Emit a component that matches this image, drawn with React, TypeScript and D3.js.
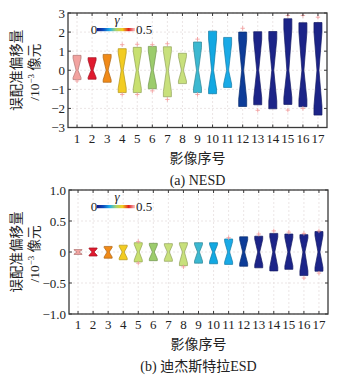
import * as d3 from "d3"

const imageIds = [1, 2, 3, 4, 5, 6, 7, 8, 9, 10, 11, 12, 13, 14, 15, 16, 17]
const gammaColors = [
  "#f2a3a0", "#e01a2e", "#f08a18", "#f2cc22", "#c8e070", "#9ccc6c", "#c8e07c", "#c8e07c",
  "#3cb8d0", "#12a8e2", "#1aaae6", "#0d3c98", "#1c2488", "#1c2488", "#1c2488", "#1c2488", "#1c2488",
]

// (a) NESD, unit 1e-3 pixel
const nesdQ3 = [0.78, 0.66, 0.83, 1.13, 1.2, 1.25, 1.23, 0.89, 1.48, 2.05, 1.72, 2.0, 2.02, 2.03, 2.7, 2.49, 2.5]
const nesdQ1 = [-0.49, -0.47, -0.63, -1.17, -1.17, -0.97, -1.39, -0.7, -1.17, -1.23, -0.9, -1.9, -1.81, -2.02, -1.79, -1.91, -2.35]
const nesdOutHi = [null, null, null, 1.34, 1.36, 1.34, 1.39, null, 1.63, null, null, 2.2, null, null, 2.87, 2.87, 2.78]
const nesdOutLo = [-0.56, null, null, -1.27, -1.27, -1.08, -1.53, null, -1.27, null, null, null, -2.1, null, -2.09, -2.0, null]
const nesdTicks = [3, 2, 1, 0, -1, -2, -3]

// (b) Dijkstra ESD
const esdQ3 = [0.04, 0.065, 0.09, 0.11, 0.15, 0.14, 0.135, 0.15, 0.15, 0.15, 0.21, 0.245, 0.255, 0.3, 0.29, 0.28, 0.33]
const esdQ1 = [-0.04, -0.065, -0.1, -0.125, -0.16, -0.14, -0.15, -0.22, -0.18, -0.19, -0.2, -0.23, -0.255, -0.305, -0.28, -0.38, -0.31]
const esdOutHi = [null, null, null, null, 0.17, null, null, null, null, null, 0.23, null, 0.29, 0.34, 0.32, 0.3, 0.34]
const esdOutLo = [null, null, null, null, -0.18, null, null, -0.24, null, null, null, null, null, null, null, -0.42, -0.34]
const esdTicks = [1.0, 0.5, 0, -0.5, -1.0]

const median = 0
const serif = "'Liberation Serif', 'Times New Roman', serif"
const cjk = "'Liberation Serif', 'Noto Sans CJK SC', serif"
const fmtMinus = (s: string) => s.replace("-", "\u2212")

interface PanelProps {
  top: number
  bottom: number
  left: number
  right: number
  domain: [number, number]
  ticks: number[]
  tickFmt: (v: number) => string
  q3: number[]
  q1: number[]
  outHi: (number | null)[]
  outLo: (number | null)[]
  caption: string
  gradId: string
}

function Panel(p: PanelProps) {
  const x = d3.scaleLinear().domain([0.4, 17.6]).range([p.left, p.right])
  const y = d3.scaleLinear().domain(p.domain).range([p.bottom, p.top])
  const labelY = (p.top + p.bottom) / 2
  const hw = 4
  const waist = 1
  const plus = 2.2

  return (
    <g>
      {/* grid */}
      {imageIds.map(i => (
        <line key={"gx" + i} x1={x(i)} x2={x(i)} y1={p.top} y2={p.bottom}
          stroke="#e6dede" strokeWidth={0.8} strokeDasharray="2,2" />
      ))}
      {p.ticks.map(t => (
        <line key={"gy" + t} x1={p.left} x2={p.right} y1={y(t)} y2={y(t)}
          stroke="#e6dede" strokeWidth={0.8} strokeDasharray="2,2" />
      ))}

      {/* boxes */}
      {imageIds.map((id, i) => {
        const cx = x(id)
        const yT = y(p.q3[i]), yB = y(p.q1[i]), yM = y(median)
        const nT = y(median + 0.8 * (p.q3[i] - median))
        const nB = y(median - 0.8 * (median - p.q1[i]))
        const pts = [
          [cx - hw, yT], [cx + hw, yT], [cx + hw, nT], [cx + waist, yM], [cx + hw, nB],
          [cx + hw, yB], [cx - hw, yB], [cx - hw, nB], [cx - waist, yM], [cx - hw, nT],
        ]
        const col = gammaColors[i]
        return (
          <polygon key={"b" + id} points={pts.map(q => q.join(",")).join(" ")}
            fill={col} stroke={d3.color(col)!.darker(0.9).formatHex()} strokeWidth={0.7} />
        )
      })}

      {/* outliers */}
      {imageIds.map((id, i) => [p.outHi[i], p.outLo[i]].map((v, k) => v == null ? null : (
        <path key={"o" + id + k}
          d={`M${x(id) - plus},${y(v)}h${2 * plus}M${x(id)},${y(v) - plus}v${2 * plus}`}
          stroke="#f29a9a" strokeWidth={0.8} />
      )))}

      {/* frame and ticks */}
      <rect x={p.left} y={p.top} width={p.right - p.left} height={p.bottom - p.top}
        fill="none" stroke="#3a3a3a" strokeWidth={1.3} />
      {imageIds.map(id => (
        <g key={"tx" + id}>
          <line x1={x(id)} x2={x(id)} y1={p.bottom} y2={p.bottom - 3} stroke="#3a3a3a" />
          <line x1={x(id)} x2={x(id)} y1={p.top} y2={p.top + 3} stroke="#3a3a3a" />
          <text x={x(id)} y={p.bottom + 15} textAnchor="middle" fontFamily={serif}
            fontSize={13} fill="#222">{id}</text>
        </g>
      ))}
      {p.ticks.map(t => (
        <g key={"ty" + t}>
          <line x1={p.left} x2={p.left + 3} y1={y(t)} y2={y(t)} stroke="#3a3a3a" />
          <line x1={p.right} x2={p.right - 3} y1={y(t)} y2={y(t)} stroke="#3a3a3a" />
          <text x={p.left - 3} y={y(t) + 4.5} textAnchor="end" fontFamily={serif}
            fontSize={13} fill="#222">{fmtMinus(p.tickFmt(t))}</text>
        </g>
      ))}

      {/* colour legend */}
      <text x={117} y={p.top + 11} textAnchor="middle" fontFamily={serif} fontStyle="italic"
        fontSize={13} fill="#222">γ</text>
      <text x={94} y={p.top + 21} textAnchor="middle" fontFamily={serif} fontSize={13} fill="#222">0</text>
      <rect x={97} y={p.top + 15} width={38} height={3.2} fill={`url(#${p.gradId})`} />
      <text x={136} y={p.top + 21} fontFamily={serif} fontSize={13} fill="#222">0.5</text>

      {/* axis titles */}
      <text transform={`translate(21,${labelY}) rotate(-90)`} textAnchor="middle"
        fontFamily={cjk} fontSize={13.5} fill="#222">误配准偏移量</text>
      <text transform={`translate(39,${labelY + 2}) rotate(-90)`} textAnchor="middle"
        fontFamily={cjk} fontSize={13.5} fill="#222">
        /10<tspan fontSize={9} dy={-5}>−3</tspan><tspan dy={5}> 像元</tspan>
      </text>
      <text x={(p.left + p.right) / 2} y={p.bottom + 35} textAnchor="middle"
        fontFamily={cjk} fontSize={14} fill="#222">影像序号</text>
      <text x={(p.left + p.right) / 2} y={p.bottom + 57} textAnchor="middle"
        fontFamily={cjk} fontSize={14} fill="#222">{p.caption}</text>
    </g>
  )
}

export default function App() {
  const stops = ["#1a1a80", "#0a4cc0", "#20b0e8", "#a8d470", "#f2d020", "#e02020", "#f8c4c4"]
  return (
    <svg width={352} height={375} style={{ position: "absolute", left: 0, top: 0, background: "#fff" }}>
      <defs>
        {["cbA", "cbB"].map(id => (
          <linearGradient key={id} id={id} x1="0" x2="1" y1="0" y2="0">
            {stops.map((c, i) => <stop key={i} offset={i / (stops.length - 1)} stopColor={c} />)}
          </linearGradient>
        ))}
      </defs>
      <Panel top={13} bottom={127.5} left={68} right={327} domain={[-3, 3]} ticks={nesdTicks}
        tickFmt={v => String(v)} q3={nesdQ3} q1={nesdQ1} outHi={nesdOutHi} outLo={nesdOutLo}
        caption="(a) NESD" gradId="cbA" />
      <Panel top={190} bottom={314} left={69} right={328} domain={[-1, 1]} ticks={esdTicks}
        tickFmt={v => v === 0 ? "0" : d3.format(".1f")(v)} q3={esdQ3} q1={esdQ1} outHi={esdOutHi}
        outLo={esdOutLo} caption="(b) 迪杰斯特拉ESD" gradId="cbB" />
    </svg>
  )
}
